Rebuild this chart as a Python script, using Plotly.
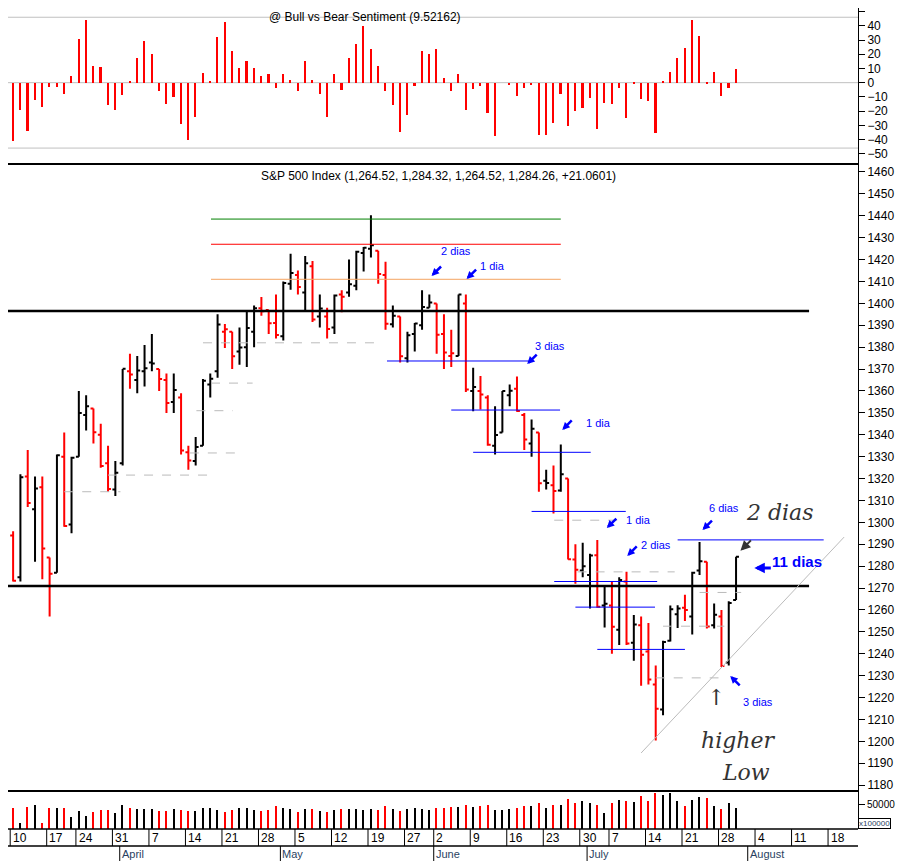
import plotly.graph_objects as go
from plotly.subplots import make_subplots

# S&P 500 daily bars, 10 Mar 2008 .. 30 Jul 2008 (index = trading day)
opens = [1294, 1275, 1321, 1306, 1316, 1284, 1277, 1330, 1299, 1330, 1349, 1352, 1340, 1327,
         1315, 1327, 1369, 1365, 1369, 1373, 1370, 1365, 1355, 1357, 1332, 1328, 1335, 1363, 1369,
         1387, 1387, 1378, 1380, 1387, 1397.8, 1397, 1391, 1385, 1409, 1413, 1405, 1417, 1394, 1394,
         1389, 1404, 1405, 1408, 1423, 1425, 1424, 1413, 1390.5, 1394, 1375, 1386, 1390, 1398,
         1400, 1386, 1376, 1376, 1400, 1360, 1360, 1357, 1335, 1341, 1358, 1361, 1349, 1336, 1341,
         1319, 1317, 1314.5, 1320, 1283, 1278, 1276, 1285, 1262, 1262, 1251, 1273, 1245, 1253,
         1241, 1226, 1214.6, 1246, 1258, 1261, 1257, 1278, 1282, 1253, 1257, 1236, 1264.52]
highs = [1296, 1322, 1333, 1321, 1321, 1284, 1331, 1341, 1330, 1360, 1358, 1352, 1345, 1335,
         1328, 1370, 1377, 1376, 1381, 1386, 1370, 1368, 1368, 1359, 1335, 1339, 1365.5, 1368, 1395,
         1390.6, 1387, 1389, 1397, 1399, 1402.9, 1397, 1404, 1410, 1422.7, 1415, 1421.6, 1419.3, 1404, 1398,
         1404, 1406, 1420, 1424, 1425.8, 1440.2, 1424, 1419, 1399, 1394, 1387, 1391, 1406, 1404,
         1400, 1395, 1388, 1404, 1404, 1370.6, 1366.8, 1358, 1353, 1360, 1363, 1366.6, 1350, 1347, 1341,
         1324, 1326, 1335.6, 1320, 1290, 1290.7, 1285.7, 1292, 1271, 1273, 1275, 1277.4, 1257.7, 1257,
         1254, 1234.7, 1246, 1262, 1262.2, 1267, 1277.4, 1291, 1282, 1263, 1260, 1264, 1284.32]
lows = [1273, 1273, 1307, 1282, 1274, 1257, 1277, 1298, 1295, 1330, 1342, 1336, 1325, 1314,
        1312, 1326, 1361, 1359, 1362, 1369, 1360, 1350, 1350, 1331, 1324, 1326, 1335, 1357, 1366,
        1379.6, 1370, 1372, 1371, 1380, 1394.4, 1386, 1384, 1383, 1406.2, 1404, 1397, 1391.5, 1389, 1384,
        1386, 1396, 1403, 1406, 1414.5, 1421, 1409, 1388, 1389, 1373, 1373, 1378, 1388, 1398,
        1377, 1370, 1371, 1376, 1359.5, 1350.7, 1351.5, 1335, 1331, 1341, 1353, 1350.5, 1333, 1330, 1314,
        1315, 1304, 1314, 1283, 1272, 1274.9, 1260.7, 1261, 1252, 1240, 1244, 1244, 1236.8, 1225.4,
        1226, 1200.4, 1211.9, 1245.6, 1251.8, 1255, 1248.8, 1276, 1251.5, 1251.5, 1234, 1234.7, 1264.52]
closes = [1273.4, 1320.6, 1308.8, 1315.5, 1288.1, 1276.6, 1330.7, 1298.4, 1329.5, 1349.9, 1353.0,
          1341.1, 1325.8, 1315.2, 1322.7, 1370.2, 1367.5, 1369.3, 1370.4, 1372.5, 1365.5, 1354.5,
          1360.5, 1332.8, 1328.3, 1334.4, 1364.7, 1365.6, 1390.3, 1388.2, 1375.9, 1379.9, 1388.8,
          1397.8, 1396.4, 1390.9, 1385.6, 1409.3, 1413.9, 1407.5, 1418.3, 1392.6, 1397.7, 1388.3,
          1403.6, 1403.0, 1408.7, 1423.6, 1425.4, 1426.6, 1413.4, 1390.7, 1394.4, 1375.9, 1385.4,
          1390.8, 1398.3, 1400.4, 1385.7, 1377.6, 1377.2, 1404.0, 1360.7, 1361.8, 1358.4, 1335.5,
          1339.9, 1360.0, 1360.1, 1350.9, 1337.8, 1342.8, 1317.9, 1318.0, 1314.3, 1322.0, 1283.2,
          1278.4, 1280.0, 1284.9, 1261.5, 1262.9, 1252.3, 1273.7, 1244.7, 1253.4, 1239.5, 1228.3,
          1214.9, 1245.4, 1260.3, 1260.7, 1260.0, 1277.0, 1282.2, 1252.5, 1257.8, 1234.4, 1263.2, 1284.26]

volume = [44500, 12000, 46600, 50000, 12000, 44500, 44500, 43000, 24700, 38000, 26000, 35000, 40000,
          40000, 33000, 50000, 44500, 41000, 41000, 41000, 38000, 38000, 41000, 40000, 38000, 38000,
          43000, 43000, 40000, 35000, 40000, 44500, 44500, 40000, 38000, 40000, 48000, 43000, 41000,
          35000, 41000, 41000, 38000, 35000, 40000, 41000, 41000, 41000, 40000, 41000, 40000, 48000,
          41000, 38000, 41000, 43000, 41000, 40000, 43000, 44500, 46600, 46600, 50000, 46600, 48000,
          50000, 40000, 40000, 41000, 43000, 48000, 48000, 53000, 43000, 50000, 50000, 62000, 55000,
          58000, 53000, 50000, 34000, 55000, 60000, 58000, 57000, 68000, 58000, 75000, 70000, 74000,
          58000, 48000, 60000, 67000, 65000, 48500, 41000, 53000, 43000]

sentiment = [-41, -19, -34, -12, -17, -3, -3, -8, 5, 31, 44, 12, 11, -16, -19, -9, 0.5, 17, 29, 20,
             -6, -15, -10, -29, -40, -24, 7, 1, 32, 43, 22, 10, 15, 10, 5, 6, -4, 6, 2, -6, 15, 2,
             -8, -24, 6, -5, 17, 27, 40, 24, 12, -6, -16, -35, -23, -2, 22, 20, 24, 3, -6,
             5.8, -19.3, -4.7, -2.6, -21, -37.4, 0, -1.9, -9.5, -3.5, -1.9, -36.7, -36.7, -28.6,
             -7.7, -30.5, -20, -18, -10.5, -32.6, -14, -15.3, -3.5, -25, -1.2, -11.6, -13, -35.6,
             1.2, 7.4, 17.2, 24.2, 44.2, 32.6, -1.2, 7.4, -9.5, -3.5, 9.52162]

# weekly tick labels (trading-day index) and month starts
tick_idx = [0, 5, 9, 14, 19, 24, 29, 34, 39, 44, 49, 54, 58, 63, 68, 73, 78, 82, 87, 92, 97, 102, 107, 112]
tick_txt = ["10", "17", "24", "31", "7", "14", "21", "28", "5", "12", "19", "27", "2", "9", "16",
            "23", "30", "7", "14", "21", "28", "4", "11", "18"]
month_idx = [15, 37, 58, 79, 101]
month_txt = ["April", "May", "June", "July", "August"]

# drawn level lines: (start, end, price, colour, width, dash)
levels = [
    (-1, 109, 1396.5, "black", 2.5, "solid"), (-1, 109, 1271, "black", 2.5, "solid"),
    (27.1, 75, 1438.5, "green", 1, "solid"), (27.1, 75, 1427, "red", 1, "solid"),
    (27.1, 75, 1411, "#f4a460", 1, "solid"),
    (51.2, 70.6, 1373.7, "blue", 1, "solid"), (60, 74.9, 1351.3, "blue", 1, "solid"),
    (63, 79.1, 1332, "blue", 1, "solid"), (71, 83.9, 1305, "blue", 1, "solid"),
    (74.1, 88.2, 1273, "blue", 1, "solid"), (77, 87.9, 1261.3, "blue", 1, "solid"),
    (80, 92, 1242, "blue", 1, "solid"), (91, 111, 1292, "blue", 1, "solid"),
    (26, 49.8, 1382, "#bbbbbb", 1, "dash"), (27.1, 32.8, 1363.6, "#bbbbbb", 1, "dash"),
    (25.1, 30.1, 1351, "#bbbbbb", 1, "dash"), (24.2, 30.8, 1331.7, "#bbbbbb", 1, "dash"),
    (13, 27.1, 1321.6, "#bbbbbb", 1, "dash"), (7, 14.7, 1314, "#bbbbbb", 1, "dash"),
    (74.1, 83.9, 1301, "#bbbbbb", 1, "dash"), (77.3, 90.6, 1277.4, "#bbbbbb", 1, "dash"),
    (89, 97.4, 1252.6, "#bbbbbb", 1, "dash"), (94, 99.7, 1268, "#bbbbbb", 1, "dash"),
    (88, 96.6, 1229, "#bbbbbb", 1, "dash"),
    (86.0, 113.8, (1194.7, 1293.3), "#bbbbbb", 1, "solid"),
]

# blue notes: (index, price, text) and arrow tips (index, price, dx, dy)
notes = [(60.7, 1423.9, "2 dias"), (65.7, 1417.1, "1 dia"), (73.5, 1380.5, "3 dias"),
         (80.2, 1345.4, "1 dia"), (85.6, 1301.1, "1 dia"), (88.1, 1289.7, "2 dias"),
         (97.4, 1306.6, "6 dias"), (102, 1218, "3 dias")]
arrows = [(57.3, 1412.5, 11, -11), (62.1, 1411.1, 11, -11), (70.4, 1372.3, 11, -11),
          (75.2, 1342.2, 11, -11), (81.3, 1297.4, 11, -11), (84.1, 1284.7, 11, -11),
          (94.4, 1296.5, 11, -11), (98.2, 1229.9, 11, 11)]

n = len(closes)
x = list(range(n))
up = [i for i in x if i == 0 and closes[i] >= opens[i] or i > 0 and closes[i] >= closes[i - 1]]
dn = [i for i in x if i not in up]
bar_col = ["black" if i in up else "red" for i in x]

fig = make_subplots(rows=3, cols=1, shared_xaxes=True, vertical_spacing=0,
                    row_heights=[0.1888, 0.7637, 0.0475])

fig.add_trace(go.Bar(x=x, y=sentiment, width=0.22, marker_color="red", marker_line_width=0),
              row=1, col=1)

for idx, col in ((up, "black"), (dn, "red")):
    fig.add_trace(go.Ohlc(x=idx, open=[opens[i] for i in idx], high=[highs[i] for i in idx],
                          low=[lows[i] for i in idx], close=[closes[i] for i in idx],
                          increasing_line_color=col, decreasing_line_color=col,
                          line_width=2, tickwidth=0.4, hoverinfo="skip"), row=2, col=1)

fig.add_trace(go.Bar(x=x, y=volume, width=0.2, marker_color=bar_col, marker_line_width=0),
              row=3, col=1)

for a, b, p, c, w, d in levels:
    p0, p1 = p if isinstance(p, tuple) else (p, p)
    fig.add_shape(type="line", x0=a, x1=b, y0=p0, y1=p1, xref="x2", yref="y2",
                  line=dict(color=c, width=w, dash=d))

for v in (0, 46, -46):
    fig.add_shape(type="line", x0=0, x1=1, xref="paper", y0=v, y1=v, yref="y",
                  line=dict(color="#c0c0c0", width=1), layer="below")

font = dict(family="Liberation Sans, Arial", size=11, color="blue")
for xi, p, t in notes:
    fig.add_annotation(x=xi, y=p, xref="x2", yref="y2", text=t, showarrow=False, font=font)
for xi, p, dx, dy in arrows:
    fig.add_annotation(x=xi, y=p, xref="x2", yref="y2", ax=dx, ay=dy, text="", showarrow=True,
                       arrowhead=2, arrowsize=0.6, arrowwidth=2.5, arrowcolor="blue")
fig.add_annotation(x=101.5, y=1279.2, xref="x2", yref="y2", ax=18, ay=0, text="", showarrow=True,
                   arrowhead=2, arrowsize=0.7, arrowwidth=3, arrowcolor="blue")
fig.add_annotation(x=107.3, y=1282, xref="x2", yref="y2", text="<b>11 dias</b>", showarrow=False,
                   font=dict(family="Liberation Sans, Arial", size=15, color="blue"))
fig.add_annotation(x=99.6, y=1287, xref="x2", yref="y2", ax=12, ay=-12, text="", showarrow=True,
                   arrowhead=2, arrowsize=1, arrowwidth=2, arrowcolor="#333333")

hand = dict(family="DejaVu Serif", size=22, color="#333333")
fig.add_annotation(x=105, y=1304.3, xref="x2", yref="y2", text="<i>2 dias</i>", showarrow=False, font=hand)
fig.add_annotation(x=99.3, y=1200.6, xref="x2", yref="y2", text="<i>higher</i>", showarrow=False, font=hand)
fig.add_annotation(x=100.4, y=1186, xref="x2", yref="y2", text="<i>Low</i>", showarrow=False, font=hand)
fig.add_annotation(x=96.2, y=1220, xref="x2", yref="y2", text="↑", showarrow=False, font=hand)

tfont = dict(family="Liberation Sans, Arial", size=12, color="black")
fig.add_annotation(x=0.305, y=1, xref="paper", yref="paper", yanchor="top", showarrow=False,
                   text="@ Bull vs Bear Sentiment (9.52162)", font=tfont)
fig.add_annotation(x=0.295, y=0.806, xref="paper", yref="paper", yanchor="top", showarrow=False,
                   text="S&P 500 Index (1,264.52, 1,284.32, 1,264.52, 1,284.26, +21.0601)", font=tfont)
fig.add_annotation(x=1.0, y=0.0, xref="paper", yref="paper", xanchor="left", yanchor="bottom",
                   showarrow=False, text="x100000", font=dict(family="Liberation Sans", size=8),
                   bordercolor="black", borderwidth=1, borderpad=0)

for t, s in zip(tick_idx, tick_txt):
    fig.add_annotation(x=t - 0.3, y=-0.011, xref="x3", yref="paper", xanchor="left", yanchor="middle",
                       showarrow=False, text=s, font=tfont)
    fig.add_shape(type="line", x0=t - 0.4, x1=t - 0.4, y0=0, y1=-0.0207, xref="x3", yref="paper",
                  line=dict(color="black", width=1))
for t, s in zip(month_idx, month_txt):
    fig.add_annotation(x=t - 0.4, y=-0.031, xref="x3", yref="paper", xanchor="left", yanchor="middle",
                       showarrow=False, text=s, font=dict(family="Liberation Sans, Arial", size=11))
    fig.add_shape(type="line", x0=t - 0.4, x1=t - 0.4, y0=-0.0207, y1=-0.04, xref="x3", yref="paper",
                  line=dict(color="black", width=1))
fig.add_shape(type="line", x0=0, x1=1, y0=-0.0207, y1=-0.0207, xref="paper", yref="paper",
              line=dict(color="black", width=1.5))
fig.add_shape(type="line", x0=0, x1=1, y0=0, y1=0, xref="paper", yref="paper",
              line=dict(color="black", width=1.5))

fig.update_xaxes(range=[-0.7, 115.7], showticklabels=False, showgrid=False, zeroline=False,
                 rangeslider_visible=False)
axis = dict(side="right", showgrid=False, zeroline=False, showline=True, linecolor="black",
            ticks="outside", ticklen=6, tickcolor="black", tickfont=tfont, mirror=False)
fig.update_yaxes(**axis)
fig.update_yaxes(range=[-56.5, 52.5], dtick=10, row=1, col=1)
fig.update_yaxes(range=[1177.8, 1464.1], dtick=10, row=2, col=1)
fig.update_yaxes(range=[0, 81000], tickvals=[50000], ticktext=["50000"],
                 tickfont=dict(family="Liberation Sans, Arial", size=10), row=3, col=1)
fig.update_xaxes(showline=True, linecolor="black", linewidth=1.5, mirror=False, row=1, col=1)
fig.update_xaxes(showline=True, linecolor="black", linewidth=1.5, row=2, col=1)

fig.update_layout(width=898, height=853, margin=dict(l=0, r=48, t=0, b=32, autoexpand=False),
                  plot_bgcolor="white", paper_bgcolor="white", showlegend=False, bargap=0)
fig.write_html("out.html")
